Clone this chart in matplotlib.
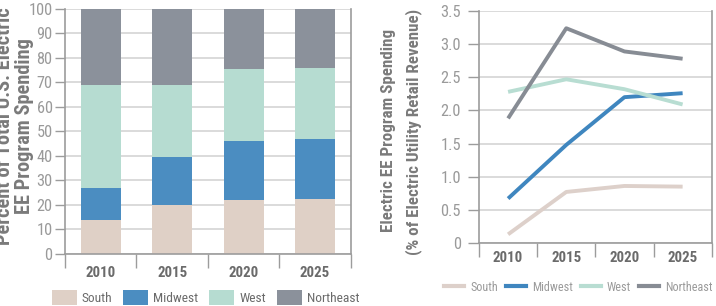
import numpy as np
import matplotlib
matplotlib.use("Agg")
import matplotlib.pyplot as plt
from matplotlib import font_manager as fm
from matplotlib.font_manager import FontProperties
from matplotlib.textpath import TextPath
from matplotlib.patches import Patch
from matplotlib.lines import Line2D

# the original uses a condensed grotesque; take the narrowest one that is installed
names = {f.name for f in fm.fontManager.ttflist}
family, stretch = 'Roboto', 'normal'
for n in ['Liberation Sans Narrow', 'Roboto Condensed', 'Noto Sans Condensed', 'Open Sans Condensed']:
    if n in names:
        family = n
        break
else:
    cands = [f for f in fm.fontManager.ttflist if 'ondensed' in f.fname or 'arrow' in f.fname]
    if cands:
        family, stretch = cands[0].name, 'condensed'
plt.rcParams['font.family'] = [family, 'DejaVu Sans']
plt.rcParams['font.stretch'] = stretch

years = ['2010', '2015', '2020', '2025']
regions = ['South', 'Midwest', 'West', 'Northeast']
colors = ['#dfd0c6', '#4b8dc1', '#b6dcd1', '#8b919b']

# share of total spending (%)
share_south = [14, 20, 22, 22.5]
share_midwest = [13, 19.5, 24, 24.5]
share_west = [42, 29.5, 29.5, 29]
share_northeast = [31, 31, 24.5, 24]

# spending as % of retail revenue
rev_south = [0.13, 0.77, 0.86, 0.85]
rev_midwest = [0.67, 1.48, 2.20, 2.26]
rev_west = [2.28, 2.47, 2.32, 2.09]
rev_northeast = [1.88, 3.24, 2.89, 2.78]

tick_col = '#9a9a9a'
year_col = '#6b6b6b'
label_col = '#7a7a7a'
spine_col = '#9c9c9c'
grid_col = '#d4d4d4'

DPI = 100
fig = plt.figure(figsize=(7.16, 3.06), dpi=DPI)


def size_for(s, target_px, weight='bold'):
    # font size (pt) at which s is target_px long
    fp = FontProperties(family=[family, 'DejaVu Sans'], weight=weight, stretch=stretch, size=10)
    w = TextPath((0, 0), s, prop=fp).get_extents().width
    return 10 * target_px / (w * DPI / 72)


# ---- left: stacked bars
ax1 = fig.add_axes([0.0908, 0.170, 0.399, 0.801])
x = np.arange(len(years))
bottom = np.zeros(len(years))
for vals, col, name in zip([share_south, share_midwest, share_west, share_northeast], colors, regions):
    ax1.bar(x, vals, width=0.56, bottom=bottom, color=col, zorder=2, label=name)
    bottom += np.array(vals)

ax1.set_xlim(-0.5, 3.5)
ax1.set_ylim(0, 100)
ax1.set_yticks(range(0, 101, 10))

# ---- right: lines
ax2 = fig.add_axes([0.669, 0.206, 0.325, 0.758])
line_cols = ['#ddd0ca', '#3f86bf', '#b8ddd2', '#878c94']
for vals, col, name in zip([rev_south, rev_midwest, rev_west, rev_northeast], line_cols, regions):
    ax2.plot(x, vals, color=col, lw=2.8, solid_capstyle='butt', zorder=3, label=name)
ax2.set_xlim(-0.5, 3.5)
ax2.set_ylim(0, 3.5)
ax2.set_yticks(np.arange(0, 3.51, 0.5))
ax2.set_yticklabels(['0'] + ['%.1f' % v for v in np.arange(0.5, 3.51, 0.5)])

yr_size = size_for('2010', 29)
for ax in (ax1, ax2):
    ax.grid(axis='y', color=grid_col, lw=1.2, zorder=0)
    ax.set_axisbelow(True)
    for s in ax.spines.values():
        s.set_color(spine_col)
        s.set_linewidth(1.2)
    ax.spines['top'].set_visible(False)
    ax.set_xticks(x)
    ax.set_xticklabels(years, fontsize=yr_size, fontweight='bold', color=year_col)
    ax.set_xticks(np.arange(-0.5, 3.6, 1), minor=True)
    ax.tick_params(axis='x', which='minor', length=10, color=spine_col, width=1)
    ax.tick_params(axis='y', labelsize=size_for('100', 22, 'normal'), labelcolor=tick_col,
                   color=spine_col, width=1)
ax1.tick_params(axis='x', which='major', length=0, pad=9)
ax2.tick_params(axis='x', which='major', length=0, pad=6)
ax1.tick_params(axis='y', length=7, pad=2)
ax2.tick_params(axis='y', length=8, pad=5)

# axis titles, sized to the lengths they have in the original
lt1, lt2 = 'Percent of Total U.S. Electric', 'EE Program Spending'
rt1, rt2 = 'Electric EE Program Spending', '(% of Electric Utility Retail Revenue)'
ls = size_for(lt2, 174)
rs = (size_for(rt1, 204) + size_for(rt2, 238)) / 2
kw = dict(rotation=90, ha='center', va='center', fontweight='bold', color=label_col)
fig.text(0.006, 0.588, lt1, fontsize=ls, **kw)
fig.text(0.034, 0.588, lt2, fontsize=ls, **kw)
fig.text(0.542, 0.575, rt1, fontsize=rs, **kw)
fig.text(0.578, 0.568, rt2, fontsize=rs, **kw)

# legends
fs1 = size_for('Northeast', 51, 'normal')
px1 = fs1 * DPI / 72
h1 = [Patch(facecolor=c, edgecolor='none') for c in colors]
fig.legend(h1, regions, loc='center', bbox_to_anchor=(0.287, 0.028), ncol=4, frameon=False,
           fontsize=fs1, labelcolor=year_col, handlelength=25 / px1, handleheight=1.4,
           handletextpad=5 / px1, columnspacing=11 / px1, borderaxespad=0, borderpad=0)

fs2 = size_for('Northeast', 46, 'normal')
px2 = fs2 * DPI / 72
h2 = [Line2D([0], [0], color=c, lw=3) for c in line_cols]
fig.legend(h2, regions, loc='center right', bbox_to_anchor=(0.995, 0.062), ncol=4, frameon=False,
           fontsize=fs2, labelcolor=tick_col, handlelength=20 / px2,
           handletextpad=6 / px2, columnspacing=8 / px2, borderaxespad=0, borderpad=0)

fig.savefig('out.png', dpi=DPI)
